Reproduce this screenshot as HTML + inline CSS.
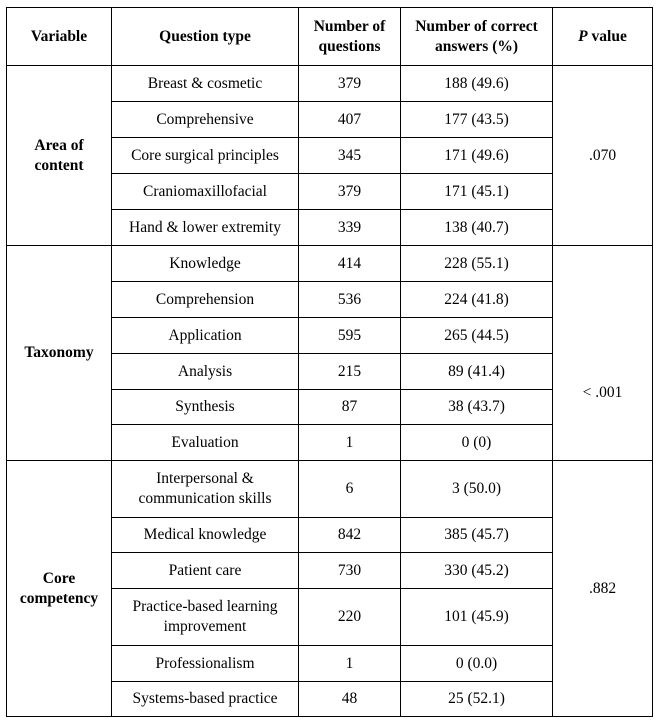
<!DOCTYPE html>
<html><head><style>
body{margin:0;width:660px;height:724px;background:#fff;position:relative;font-family:"Liberation Serif","Times New Roman",Times,serif;font-size:15.5px;color:#000}
.h{position:absolute;height:1px;background:#000}
.v{position:absolute;width:1px;background:#000}
.c{position:absolute;display:flex;align-items:center;justify-content:center;text-align:center;line-height:20px}
b{font-weight:bold}
</style></head><body>
<div class="h" style="left:6px;width:647px;top:7px"></div>
<div class="h" style="left:6px;width:647px;top:65px"></div>
<div class="h" style="left:6px;width:647px;top:245px"></div>
<div class="h" style="left:6px;width:647px;top:460px"></div>
<div class="h" style="left:6px;width:647px;top:716px"></div>
<div class="v" style="left:6px;top:7px;height:710px"></div>
<div class="v" style="left:111px;top:7px;height:710px"></div>
<div class="v" style="left:298px;top:7px;height:710px"></div>
<div class="v" style="left:400px;top:7px;height:710px"></div>
<div class="v" style="left:552px;top:7px;height:710px"></div>
<div class="v" style="left:652px;top:7px;height:710px"></div>
<div class="h" style="left:111px;width:441px;top:101px"></div>
<div class="h" style="left:111px;width:441px;top:137px"></div>
<div class="h" style="left:111px;width:441px;top:173px"></div>
<div class="h" style="left:111px;width:441px;top:209px"></div>
<div class="h" style="left:111px;width:441px;top:281px"></div>
<div class="h" style="left:111px;width:441px;top:317px"></div>
<div class="h" style="left:111px;width:441px;top:353px"></div>
<div class="h" style="left:111px;width:441px;top:389px"></div>
<div class="h" style="left:111px;width:441px;top:424px"></div>
<div class="h" style="left:111px;width:441px;top:517px"></div>
<div class="h" style="left:111px;width:441px;top:552px"></div>
<div class="h" style="left:111px;width:441px;top:588px"></div>
<div class="h" style="left:111px;width:441px;top:645px"></div>
<div class="h" style="left:111px;width:441px;top:681px"></div>

<div class="c" style="left:7px;width:104px;top:8px;height:57px"><b>Variable</b></div>
<div class="c" style="left:112px;width:186px;top:8px;height:57px"><b>Question type</b></div>
<div class="c" style="left:299px;width:101px;top:8px;height:57px"><b>Number of<br>questions</b></div>
<div class="c" style="left:401px;width:151px;top:8px;height:57px"><b>Number of correct<br>answers (%)</b></div>
<div class="c" style="left:553px;width:99px;top:8px;height:57px"><b><i>P</i> value</b></div>

<div class="c" style="left:7px;width:104px;top:66px;height:179px"><b>Area of<br>content</b></div>
<div class="c" style="left:553px;width:99px;top:66px;height:179px">.070</div>
<div class="c" style="left:7px;width:104px;top:246px;height:214px"><b>Taxonomy</b></div>
<div class="c" style="left:553px;width:99px;top:246px;height:294px">&lt; .001</div>
<div class="c" style="left:7px;width:104px;top:461px;height:255px"><b>Core<br>competency</b></div>
<div class="c" style="left:553px;width:99px;top:461px;height:255px">.882</div>

<div class="c" style="left:112px;width:186px;top:66px;height:35px">Breast &amp; cosmetic</div>
<div class="c" style="left:299px;width:101px;top:66px;height:35px">379</div>
<div class="c" style="left:401px;width:151px;top:66px;height:35px">188 (49.6)</div>
<div class="c" style="left:112px;width:186px;top:102px;height:35px">Comprehensive</div>
<div class="c" style="left:299px;width:101px;top:102px;height:35px">407</div>
<div class="c" style="left:401px;width:151px;top:102px;height:35px">177 (43.5)</div>
<div class="c" style="left:112px;width:186px;top:138px;height:35px">Core surgical principles</div>
<div class="c" style="left:299px;width:101px;top:138px;height:35px">345</div>
<div class="c" style="left:401px;width:151px;top:138px;height:35px">171 (49.6)</div>
<div class="c" style="left:112px;width:186px;top:174px;height:35px">Craniomaxillofacial</div>
<div class="c" style="left:299px;width:101px;top:174px;height:35px">379</div>
<div class="c" style="left:401px;width:151px;top:174px;height:35px">171 (45.1)</div>
<div class="c" style="left:112px;width:186px;top:210px;height:35px">Hand &amp; lower extremity</div>
<div class="c" style="left:299px;width:101px;top:210px;height:35px">339</div>
<div class="c" style="left:401px;width:151px;top:210px;height:35px">138 (40.7)</div>

<div class="c" style="left:112px;width:186px;top:246px;height:35px">Knowledge</div>
<div class="c" style="left:299px;width:101px;top:246px;height:35px">414</div>
<div class="c" style="left:401px;width:151px;top:246px;height:35px">228 (55.1)</div>
<div class="c" style="left:112px;width:186px;top:282px;height:35px">Comprehension</div>
<div class="c" style="left:299px;width:101px;top:282px;height:35px">536</div>
<div class="c" style="left:401px;width:151px;top:282px;height:35px">224 (41.8)</div>
<div class="c" style="left:112px;width:186px;top:318px;height:35px">Application</div>
<div class="c" style="left:299px;width:101px;top:318px;height:35px">595</div>
<div class="c" style="left:401px;width:151px;top:318px;height:35px">265 (44.5)</div>
<div class="c" style="left:112px;width:186px;top:354px;height:35px">Analysis</div>
<div class="c" style="left:299px;width:101px;top:354px;height:35px">215</div>
<div class="c" style="left:401px;width:151px;top:354px;height:35px">89 (41.4)</div>
<div class="c" style="left:112px;width:186px;top:390px;height:34px">Synthesis</div>
<div class="c" style="left:299px;width:101px;top:390px;height:34px">87</div>
<div class="c" style="left:401px;width:151px;top:390px;height:34px">38 (43.7)</div>
<div class="c" style="left:112px;width:186px;top:425px;height:35px">Evaluation</div>
<div class="c" style="left:299px;width:101px;top:425px;height:35px">1</div>
<div class="c" style="left:401px;width:151px;top:425px;height:35px">0 (0)</div>

<div class="c" style="left:112px;width:186px;top:461px;height:56px">Interpersonal &amp;<br>communication skills</div>
<div class="c" style="left:299px;width:101px;top:461px;height:56px">6</div>
<div class="c" style="left:401px;width:151px;top:461px;height:56px">3 (50.0)</div>
<div class="c" style="left:112px;width:186px;top:518px;height:34px">Medical knowledge</div>
<div class="c" style="left:299px;width:101px;top:518px;height:34px">842</div>
<div class="c" style="left:401px;width:151px;top:518px;height:34px">385 (45.7)</div>
<div class="c" style="left:112px;width:186px;top:553px;height:35px">Patient care</div>
<div class="c" style="left:299px;width:101px;top:553px;height:35px">730</div>
<div class="c" style="left:401px;width:151px;top:553px;height:35px">330 (45.2)</div>
<div class="c" style="left:112px;width:186px;top:589px;height:56px">Practice-based learning<br>improvement</div>
<div class="c" style="left:299px;width:101px;top:589px;height:56px">220</div>
<div class="c" style="left:401px;width:151px;top:589px;height:56px">101 (45.9)</div>
<div class="c" style="left:112px;width:186px;top:646px;height:35px">Professionalism</div>
<div class="c" style="left:299px;width:101px;top:646px;height:35px">1</div>
<div class="c" style="left:401px;width:151px;top:646px;height:35px">0 (0.0)</div>
<div class="c" style="left:112px;width:186px;top:682px;height:34px">Systems-based practice</div>
<div class="c" style="left:299px;width:101px;top:682px;height:34px">48</div>
<div class="c" style="left:401px;width:151px;top:682px;height:34px">25 (52.1)</div>
</body></html>
